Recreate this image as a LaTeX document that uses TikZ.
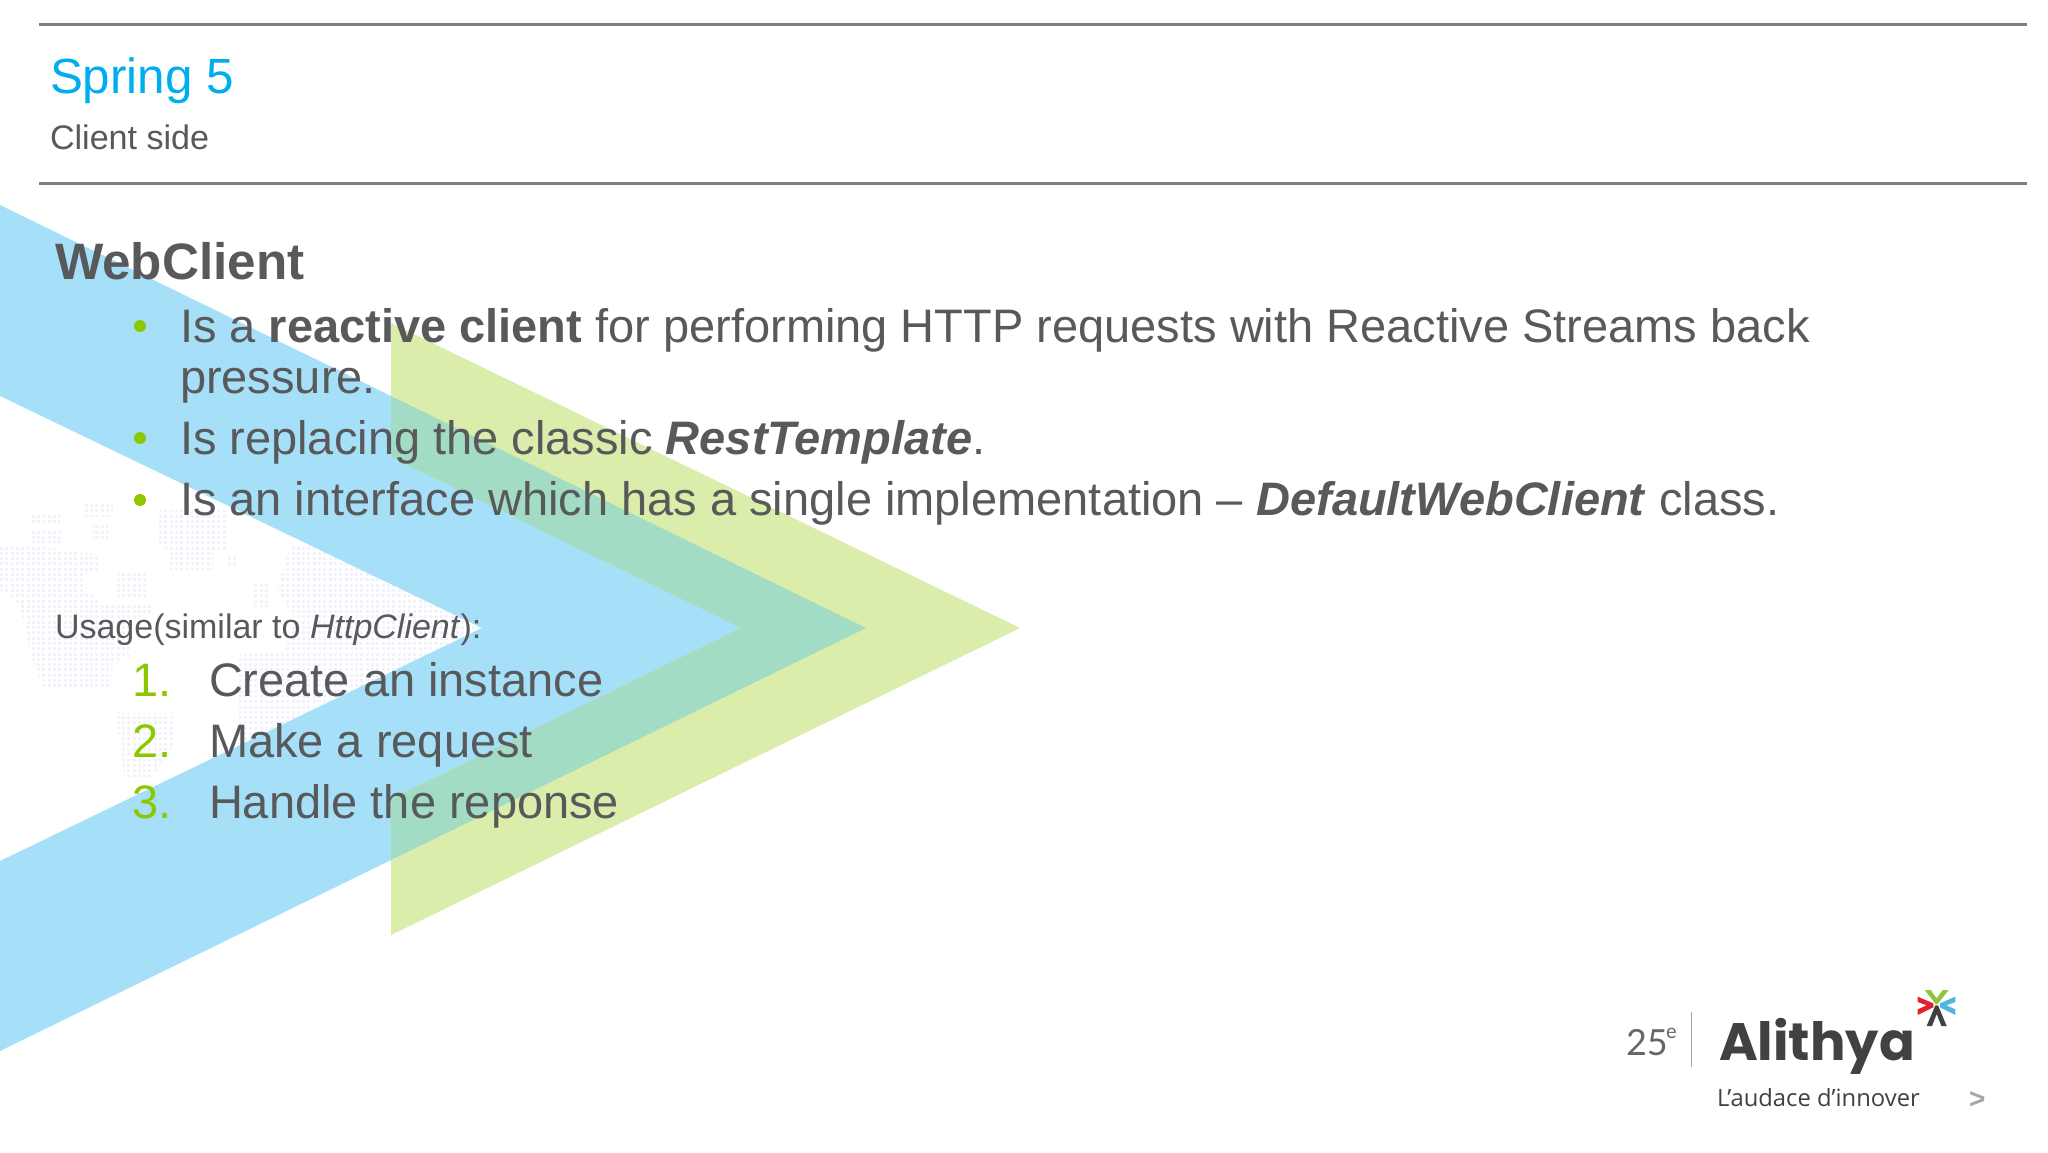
\documentclass[tikz,border=0pt]{standalone}
\usepackage{fontspec}
\setmainfont{Liberation Sans}
\newfontfamily\popfont{Poppins}
\newfontfamily\tagfont{Open Sans}
\newfontfamily\lightfont{Lato}
\definecolor{txt}{HTML}{58595B}
\definecolor{titleblue}{HTML}{00AEEF}
\definecolor{rulegray}{HTML}{7F7F7F}
\definecolor{chevblue}{HTML}{A6DFF8}
\definecolor{chevgreen}{HTML}{DAEDAB}
\definecolor{chevteal}{HTML}{A3DCC4}
\definecolor{accent}{HTML}{8DC700}
\definecolor{mapdot}{HTML}{F0F3F9}
\definecolor{logodark}{HTML}{414042}
\definecolor{logored}{HTML}{E2232E}
\definecolor{logogreen}{HTML}{8CC63F}
\definecolor{logoblue}{HTML}{4FB3E4}
\tikzset{
  lbl/.style={anchor=base west,inner sep=0pt,outer sep=0pt,text=txt},
  bodytext/.style={lbl,font=\fontsize{47}{50}\selectfont},
  marker/.style={lbl,text=accent,font=\fontsize{47}{50}\selectfont},
  rulel/.style={draw=rulegray,line width=3pt},
  bulletdot/.style={circle,fill=accent,minimum size=12pt,inner sep=0pt,outer sep=0pt,draw=none}
}
\begin{document}
\begin{tikzpicture}[x=1pt,y=-1pt]
\useasboundingbox (0,0) rectangle (2048,1152);
\fill[white] (0,0) rectangle (2048,1152);
% dotted world map
\begin{scope}
\clip (0,547) -- (45,547) -- (100,555) -- (100,570) -- (85,575) -- (85,590) -- (105,605) -- (153,605) -- (153,612) -- (133,620) -- (133,653) -- (113,663) -- (110,690) -- (45,690) -- (33,663) -- (23,620) -- (18,603) -- (0,590) -- cycle
 (30,513) -- (60,513) -- (60,523) -- (30,523) -- cycle
 (30,530) -- (64,530) -- (64,543) -- (30,543) -- cycle
 (83,503) -- (113,503) -- (113,517) -- (83,517) -- cycle
 (92,523) -- (108,523) -- (108,540) -- (92,540) -- cycle
 (157,510) -- (227,510) -- (227,550) -- (213,552) -- (213,570) -- (167,570) -- (167,550) -- (157,540) -- cycle
 (117,573) -- (147,573) -- (147,600) -- (117,600) -- cycle
 (227,557) -- (237,557) -- (237,567) -- (227,567) -- cycle
 (116,713) -- (174,713) -- (174,745) -- (150,780) -- (125,780) -- cycle
 (254,583) -- (268,583) -- (268,607) -- (254,607) -- cycle
 (277,590) -- (290,545) -- (490,545) -- (490,700) -- (312,745) -- (236,740) -- (236,655) -- (285,650) -- (295,620) -- cycle;
\foreach \my in {0,...,60} {
  \draw[mapdot,line width=3pt,dash pattern=on 3pt off 2.3pt] (0,{\my*5.3+495}) -- (490,{\my*5.3+495});
}
\end{scope}
% chevrons
\fill[chevblue] (0,205) -- (866,628) -- (0,1051) -- (0,861) -- (482,628) -- (0,396) -- cycle;
\fill[chevgreen] (391,323) -- (1020,628) -- (391,935) -- (391,799) -- (741,628) -- (391,457) -- cycle;
\begin{scope}
\clip (0,205) -- (866,628) -- (0,1051) -- (0,861) -- (482,628) -- (0,396) -- cycle;
\fill[chevteal] (391,323) -- (1020,628) -- (391,935) -- (391,799) -- (741,628) -- (391,457) -- cycle;
\end{scope}
% header
\coordinate (r1a) at (39,24); \coordinate (r1b) at (2027,24);
\coordinate (r2a) at (39,183); \coordinate (r2b) at (2027,183);
\draw[rulel] (r1a) -- (r1b);
\draw[rulel] (r2a) -- (r2b);
\node[lbl,text=titleblue,font=\fontsize{49.4}{50}\selectfont] (title) at (50,93) {Spring 5};
\node[lbl,font=\fontsize{34.1}{36}\selectfont] (sub) at (50,149) {Client side};
\node[lbl,font=\fontsize{51.2}{54}\selectfont\bfseries] (head) at (55,279) {WebClient};
% bullets
\node[bulletdot] (b1) at (140,326) {};
\node[bodytext] (t1) at (180,342) {Is a \textbf{reactive client} for performing HTTP requests with Reactive Streams back};
\node[bodytext] (t1b) at (180,393) {pressure.};
\node[bulletdot] (b2) at (140,438) {};
\node[bodytext] (t2) at (180,454) {Is replacing the classic \textbf{\textit{RestTemplate}}.};
\node[bulletdot] (b3) at (140,500) {};
\node[bodytext] (t3) at (180,515) {Is an interface which has a single implementation – \textbf{\textit{DefaultWebClient}} class.};
% usage
\node[lbl,font=\fontsize{34}{38}\selectfont] (usage) at (55,638) {Usage(similar to \textit{HttpClient}):};
\node[marker] (n1) at (132,696) {1.};
\node[bodytext] (l1) at (209,696) {Create an instance};
\node[marker] (n2) at (132,757) {2.};
\node[bodytext] (l2) at (209,757) {Make a request};
\node[marker] (n3) at (132,818) {3.};
\node[bodytext] (l3) at (209,818) {Handle the reponse};
% logo
\node[lbl,text=logodark!80,font=\lightfont\fontsize{36}{36}\selectfont] (yr) at (1626,1055) {25};
\node[lbl,text=logodark!80,font=\lightfont\fontsize{20}{22}\selectfont] (yre) at (1666,1038) {e};
\coordinate (sepa) at (1691,1012); \coordinate (sepb) at (1691,1067);
\draw[draw=gray!70,line width=1pt] (sepa) -- (sepb);
\node[lbl,text=logodark,font=\popfont\bfseries\fontsize{52.7}{60}\selectfont] (brand) at (1719,1060) {Alithya};
\node[lbl,text=logodark,font=\tagfont\fontsize{23.8}{28}\selectfont] (tag) at (1717,1106) {L’audace d’innover};
\node[lbl,text=gray!70,font=\bfseries\fontsize{28}{30}\selectfont] (more) at (1969,1108) {>};
\begin{scope}[shift={(1900,980)},x=0.3333pt,y=-0.3333pt]
\fill[logogreen] (74,30) -- (92,30) -- (110,55) -- (128,30) -- (146,30) -- (113,72) -- (107,72) -- cycle;
\fill[logored] (53,50) -- (100,70) -- (100,82) -- (53,105) -- (53,88) -- (80,76) -- (53,66) -- cycle;
\fill[logoblue] (166,50) -- (120,70) -- (120,82) -- (166,105) -- (166,88) -- (139,76) -- (166,66) -- cycle;
\fill[logodark] (106,76) -- (114,76) -- (140,138) -- (124,138) -- (110,102) -- (96,138) -- (80,138) -- cycle;
\end{scope}
\end{tikzpicture}
\end{document}
